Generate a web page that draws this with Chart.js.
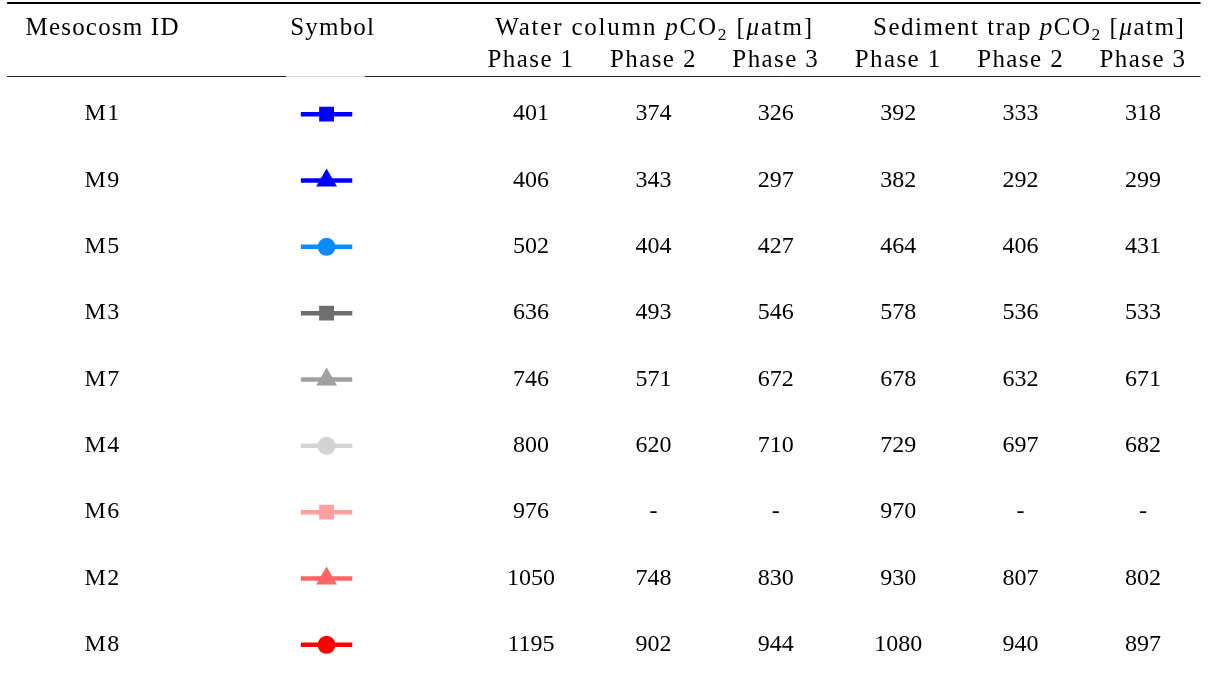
<!DOCTYPE html>
<html>
<head>
<meta charset="utf-8">
<script src="https://cdn.jsdelivr.net/npm/chart.js@4/dist/chart.umd.min.js"></script>
<style>
  html, body { margin: 0; padding: 0; background: #fff; }
  canvas { display: block; }
</style>
</head>
<body>
<canvas id="tableChart" width="1208" height="680"></canvas>
<script>
// table data
const mesocosmIds = ["M1", "M9", "M5", "M3", "M7", "M4", "M6", "M2", "M8"];
const symbolShapes = ["rect", "triangle", "circle", "rect", "triangle", "circle", "rect", "triangle", "circle"];
const symbolColors = ["#0000ff", "#0000ff", "#0a8cff", "#6e6e6e", "#a0a0a0", "#d3d3d3", "#ffa0a0", "#ff6464", "#ff0000"];

const waterPhase1 = [401, 406, 502, 636, 746, 800, 976, 1050, 1195];
const waterPhase2 = [374, 343, 404, 493, 571, 620, null, 748, 902];
const waterPhase3 = [326, 297, 427, 546, 672, 710, null, 830, 944];
const trapPhase1 = [392, 382, 464, 578, 678, 729, 970, 930, 1080];
const trapPhase2 = [333, 292, 406, 536, 632, 697, null, 807, 940];
const trapPhase3 = [318, 299, 431, 533, 671, 682, null, 802, 897];

const phaseLabels = ["Phase 1", "Phase 2", "Phase 3"];

// column layout (in x-scale units, phase columns sit at 2..7)
const COL_ID = -1.5;
const COL_SYMBOL = 0.33;
const valueColumns = [
  { pos: 2, values: waterPhase1 },
  { pos: 3, values: waterPhase2 },
  { pos: 4, values: waterPhase3 },
  { pos: 5, values: trapPhase1 },
  { pos: 6, values: trapPhase2 },
  { pos: 7, values: trapPhase3 }
];
const SYMBOL_HALF = 0.21;
const markerRadius = { rect: 10.5, triangle: 12, circle: 9 };

const FONT = "'Liberation Serif', 'DejaVu Serif', serif";
const FONT_SIZE = 24;
const HEAD_SIZE = 25;

function drawRuns(ctx, runs, cx, cy, spacing) {
  // measure first so the whole string is centered
  ctx.letterSpacing = spacing + "px";
  let total = 0;
  runs.forEach(r => {
    const size = r.sub ? HEAD_SIZE * 0.7 : HEAD_SIZE;
    ctx.font = `${r.italic ? "italic " : ""}${size}px ${FONT}`;
    r.w = ctx.measureText(r.t).width;
    total += r.w;
  });
  let x = cx - total / 2;
  ctx.textAlign = "left";
  ctx.textBaseline = "alphabetic";
  runs.forEach(r => {
    const size = r.sub ? HEAD_SIZE * 0.7 : HEAD_SIZE;
    ctx.font = `${r.italic ? "italic " : ""}${size}px ${FONT}`;
    ctx.fillText(r.t, x, cy + (r.sub ? 5 : 0));
    x += r.w;
  });
  ctx.letterSpacing = "0px";
}

const tablePlugin = {
  id: "tableText",
  afterDraw(chart) {
    const ctx = chart.ctx;
    const xs = chart.scales.x;
    const ys = chart.scales.y;
    ctx.save();
    ctx.fillStyle = "#000";

    // rules
    ctx.strokeStyle = "#000";
    ctx.lineWidth = 2.2;
    ctx.beginPath();
    ctx.moveTo(xs.getPixelForValue(-2.28), 3);
    ctx.lineTo(xs.getPixelForValue(7.47), 3);
    ctx.stroke();

    ctx.lineWidth = 1;
    ctx.strokeStyle = "#222";
    ctx.beginPath();
    ctx.moveTo(xs.getPixelForValue(-2.28), 76.5);
    ctx.lineTo(xs.getPixelForValue(0.0), 76.5);
    ctx.moveTo(xs.getPixelForValue(0.64), 76.5);
    ctx.lineTo(xs.getPixelForValue(7.47), 76.5);
    ctx.stroke();
    ctx.strokeStyle = "#d8d8d8";
    ctx.beginPath();
    ctx.moveTo(xs.getPixelForValue(0.0), 76.5);
    ctx.lineTo(xs.getPixelForValue(0.64), 76.5);
    ctx.stroke();

    // header
    ctx.font = `${HEAD_SIZE}px ${FONT}`;
    ctx.textAlign = "center";
    ctx.textBaseline = "alphabetic";
    ctx.letterSpacing = "1.2px";
    ctx.fillText("Mesocosm ID", xs.getPixelForValue(COL_ID), 35);
    ctx.fillText("Symbol", xs.getPixelForValue(COL_SYMBOL + 0.05), 35);

    drawRuns(ctx, [
      { t: "Water column " }, { t: "p", italic: true }, { t: "CO" }, { t: "2", sub: true },
      { t: " [" }, { t: "\u03bc", italic: true }, { t: "atm]" }
    ], xs.getPixelForValue(3.01), 35, 1.8);
    drawRuns(ctx, [
      { t: "Sediment trap " }, { t: "p", italic: true }, { t: "CO" }, { t: "2", sub: true },
      { t: " [" }, { t: "\u03bc", italic: true }, { t: "atm]" }
    ], xs.getPixelForValue(6.07), 35, 1.5);

    ctx.font = `${HEAD_SIZE}px ${FONT}`;
    ctx.textAlign = "center";
    ctx.letterSpacing = "1.4px";
    valueColumns.forEach((col, i) => {
      ctx.fillText(phaseLabels[i % 3], xs.getPixelForValue(col.pos), 67);
    });

    // body cells
    ctx.font = `${FONT_SIZE}px ${FONT}`;
    ctx.textBaseline = "middle";
    mesocosmIds.forEach((id, row) => {
      const y = ys.getPixelForValue(row);
      ctx.letterSpacing = "1.5px";
      ctx.fillText(id, xs.getPixelForValue(COL_ID), y);
      ctx.letterSpacing = "0px";
      valueColumns.forEach(col => {
        const v = col.values[row];
        ctx.fillText(v === null ? "-" : String(v), xs.getPixelForValue(col.pos), y);
      });
    });
    ctx.restore();
  }
};

const datasets = mesocosmIds.map((id, i) => ({
  label: id,
  data: [
    { x: COL_SYMBOL - SYMBOL_HALF, y: id },
    { x: COL_SYMBOL, y: id },
    { x: COL_SYMBOL + SYMBOL_HALF, y: id }
  ],
  borderColor: symbolColors[i],
  backgroundColor: symbolColors[i],
  borderWidth: 4.5,
  pointStyle: symbolShapes[i],
  pointRadius: [0, markerRadius[symbolShapes[i]], 0],
  pointBorderWidth: 0,
  pointBackgroundColor: symbolColors[i],
  fill: false,
  tension: 0
}));

new Chart(document.getElementById("tableChart"), {
  type: "line",
  data: { datasets },
  options: {
    responsive: false,
    animation: false,
    layout: { padding: { top: 81, bottom: 2, left: 0, right: 0 } },
    plugins: {
      legend: { display: false },
      tooltip: { enabled: false }
    },
    scales: {
      x: { type: "linear", min: -2.338, max: 7.531, display: false },
      y: { type: "category", labels: mesocosmIds, offset: true, display: false }
    }
  },
  plugins: [tablePlugin]
});
</script>
</body>
</html>
